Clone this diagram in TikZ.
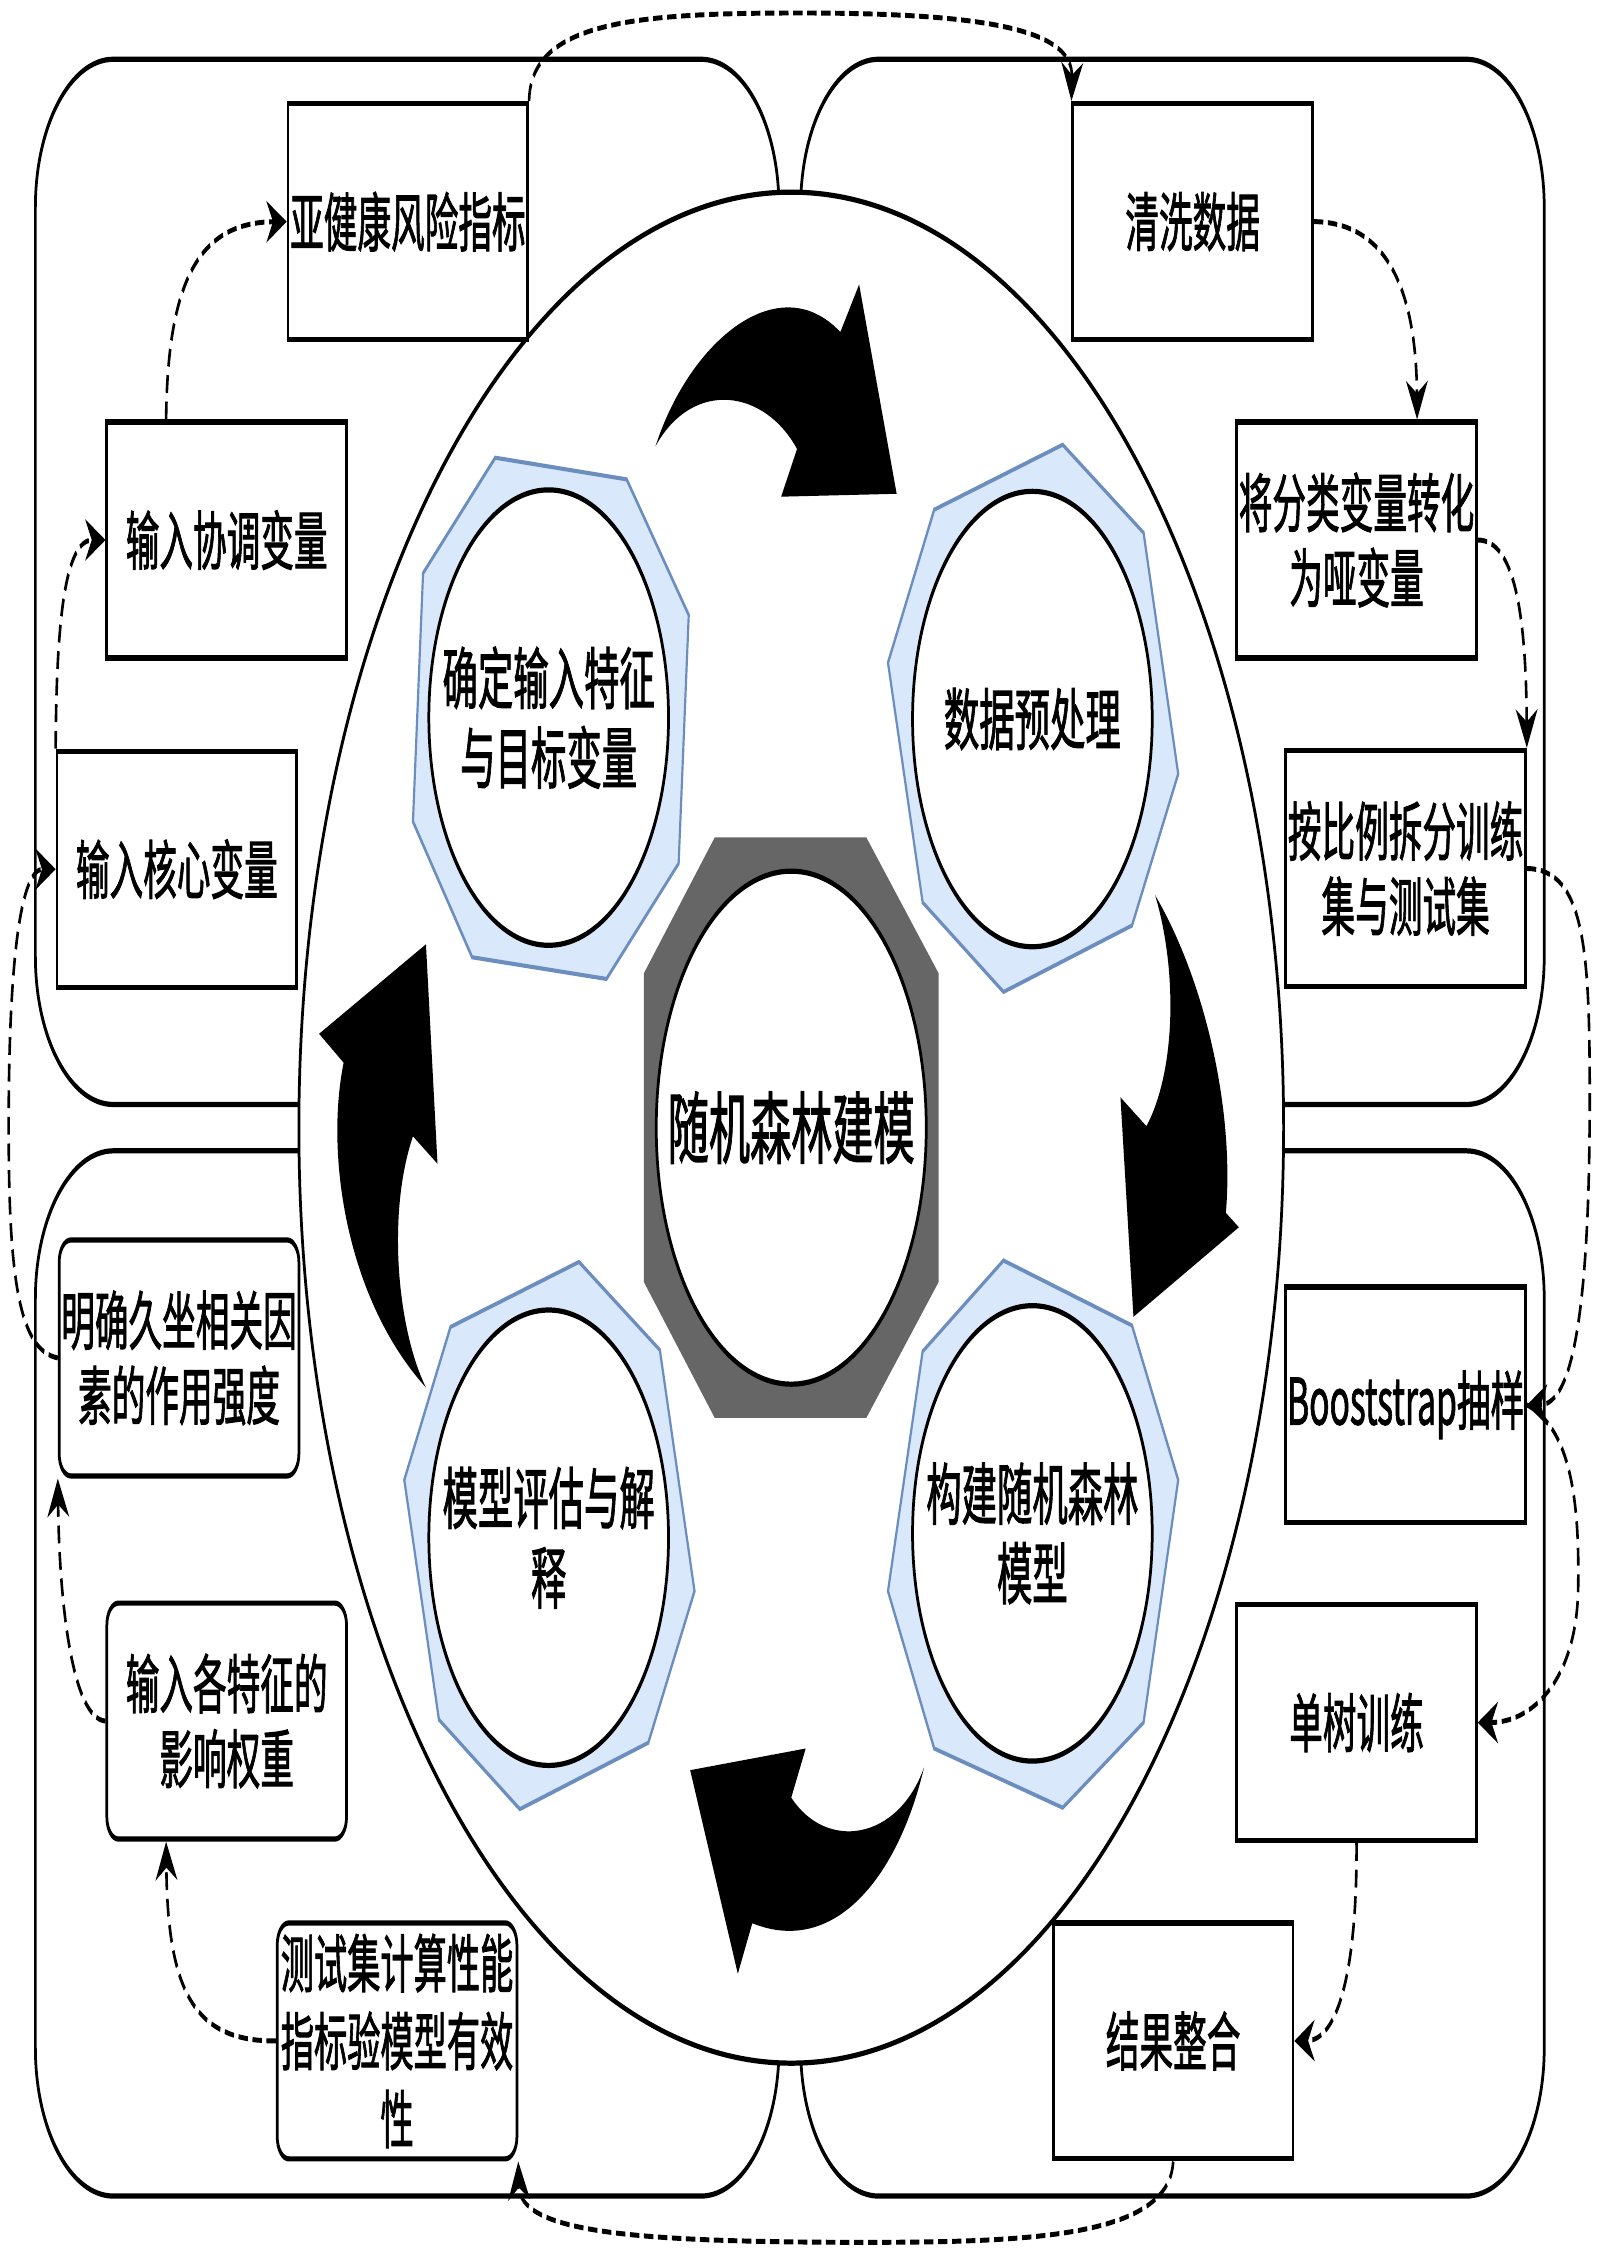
\documentclass[tikz,border=0pt]{standalone}
\usepackage{fontspec}
\setmainfont{Noto Sans CJK SC}[FakeBold=1.8]
\usetikzlibrary{arrows.meta}
\definecolor{satfill}{HTML}{DAE8FC}
\definecolor{satline}{HTML}{6C8EBF}
\definecolor{hubgray}{HTML}{666666}

\begin{document}
\begin{tikzpicture}[x=1pt, y=-1pt,
      panel/.style={draw, fill=white, line width=1.9pt, rounded corners=54pt,
                    minimum width=515pt, minimum height=381pt},
      box/.style={draw, fill=white, line width=1.9pt, minimum width=166pt,
                  minimum height=86pt, inner sep=1pt, align=center,
                  font=\fontsize{23.3}{27.4}\selectfont},
      rbox/.style={box, rounded corners=8pt},
      sat/.style={draw=satline, fill=satfill, line width=1.5pt},
      core/.style={circle, draw, fill=white, line width=1.9pt, minimum size=166pt,
                   inner sep=0pt, align=center, font=\fontsize{24.5}{29}\selectfont},
      turn/.style={fill=black},
      dline/.style={dash pattern=on 6.5pt off 3.2pt, line width=1.8pt,
                    -{Stealth[length=14pt, width=15pt, inset=4.5pt]}}]
    \useasboundingbox (0,0) rectangle (1108,1568);
    \begin{scope}[y=-0.5263pt, transform canvas={yscale=1.9}]
    \node[panel] (ptl) at (282,403) {};
    \node[panel] (ptr) at (812,403) {};
    \node[panel] (pbl) at (282,1159) {};
    \node[panel] (pbr) at (812,1159) {};
    \node[circle, draw, fill=white, line width=1.9pt, minimum size=682pt] (ring) at (548,781) {};

    \node[box] (b1) at (282.5,153.5) {亚健康风险指标};
    \node[box] (b2) at (157,374) {输入协调变量};
    \node[box] (b3) at (122.5,602) {输入核心变量};
    \node[box] (b4) at (826,153.5) {清洗数据};
    \node[box] (b5) at (939.5,374) {将分类变量转化\\为哑变量};
    \node[box] (b6) at (973.5,601.5) {按比例拆分训练\\集与测试集};
    \node[box] (b7) at (973.5,973) {Booststrap抽样};
    \node[box] (b8) at (939.5,1193) {单树训练};
    \node[box] (b9) at (812.5,1413.5) {结果整合};
    \node[rbox] (b10) at (124,940.5) {明确久坐相关因\\素的作用强度};
    \node[rbox] (b11) at (157,1192) {输入各特征的\\影响权重};
    \node[rbox, font=\fontsize{23}{28.4}\selectfont] (b12) at (275,1413.5)
      {测试集计算性能\\指标验模型有效\\性};

    \draw[sat] (343,317) -- (434,332) -- (477,426) -- (470,598) -- (420,678)
      -- (327,663) -- (286,569) -- (293,397) -- cycle;
    \node[core] (feat) at (380,497) {确定输入特征\\与目标变量};
    \draw[sat] (736,308) -- (792,369) -- (816,536) -- (784,641) -- (695,687)
      -- (639,625) -- (615,459) -- (647,353) -- cycle;
    \node[core] (prep) at (715,498) {数据预处理};
    \draw[sat] (695,873) -- (784,918) -- (816,1025) -- (792,1193) -- (736,1252)
      -- (647,1211) -- (615,1102) -- (639,936) -- cycle;
    \node[core] (build) at (715,1062) {构建随机森林\\模型};
    \draw[sat] (401,874) -- (457,935) -- (481,1102) -- (449,1207) -- (360,1253)
      -- (304,1191) -- (280,1025) -- (312,919) -- cycle;
    \node[core] (eval) at (380,1065) {模型评估与解\\释};

    \fill[hubgray] (495,580) -- (600,580) -- (650,674) -- (650,888) -- (600,982)
      -- (495,982) -- (446,888) -- (446,674) -- cycle;
    \node[core, minimum size=187pt, font=\fontsize{28.5}{32}\selectfont] (hub) at (548,781) {随机森林建模};

    \fill[turn] (454,309) .. controls (478,235) and (540,185) .. (582,230) -- (595,197)
      -- (621,342) -- (541,344) -- (552,311) .. controls (530,270) and (480,262) .. (454,309) -- cycle;
    \fill[turn] (800,620) .. controls (835,680) and (855,770) .. (849,840) -- (858,850)
      -- (785,912) -- (776,760) -- (794,780) .. controls (815,740) and (815,670) .. (800,620) -- cycle;
    \fill[turn] (640,1224) .. controls (622,1300) and (578,1355) .. (521,1332) -- (511,1367)
      -- (478,1226) -- (558,1211) -- (548,1245) .. controls (572,1282) and (622,1275) .. (640,1224) -- cycle;
    \fill[turn] (295,961) .. controls (240,900) and (225,800) .. (238,736) -- (221,716)
      -- (295,654) -- (303,806) -- (286,787) .. controls (268,840) and (275,920) .. (295,961) -- cycle;

    \draw[dline] (b1.north east) .. controls (367,15) and (440,9) .. (554,9)
      .. controls (690,9) and (743,22) .. (b4.north west);
    \draw[dline] (b4.east) .. controls (965,154) and (981,210) .. ([xshift=-42pt]b5.north east);
    \draw[dline] (b5.east) .. controls (1050,374) and (1057,430) .. (b6.north east);
    \draw[dline] (b6.east) .. controls (1098,602) and (1101,660) .. (1101,760)
      .. controls (1101,930) and (1085,973) .. (b7.east);
    \draw[dline] (b7.east) .. controls (1088,990) and (1094,1040) .. (1093,1100)
      .. controls (1092,1165) and (1060,1193) .. (b8.east);
    \draw[dline] (b8.south) .. controls (940,1370) and (925,1413) .. (b9.east);
    \draw[dline] (b9.south) .. controls (810,1548) and (720,1553) .. (600,1553)
      .. controls (430,1553) and (360,1545) .. (b12.south east);
    \draw[dline] (b12.west) .. controls (135,1414) and (116,1380) .. ([xshift=42pt]b11.south west);
    \draw[dline] (b11.west) .. controls (50,1190) and (41,1110) .. (b10.south west);
    \draw[dline] (b10.west) .. controls (12,935) and (6,880) .. (6,780)
      .. controls (6,660) and (15,602) .. (b3.west);
    \draw[dline] (b3.north west) .. controls (39,430) and (45,374) .. (b2.west);
    \draw[dline] ([xshift=42pt]b2.north west) .. controls (116,200) and (135,154) .. (b1.west);
    \end{scope}
  \end{tikzpicture}
\end{document}
